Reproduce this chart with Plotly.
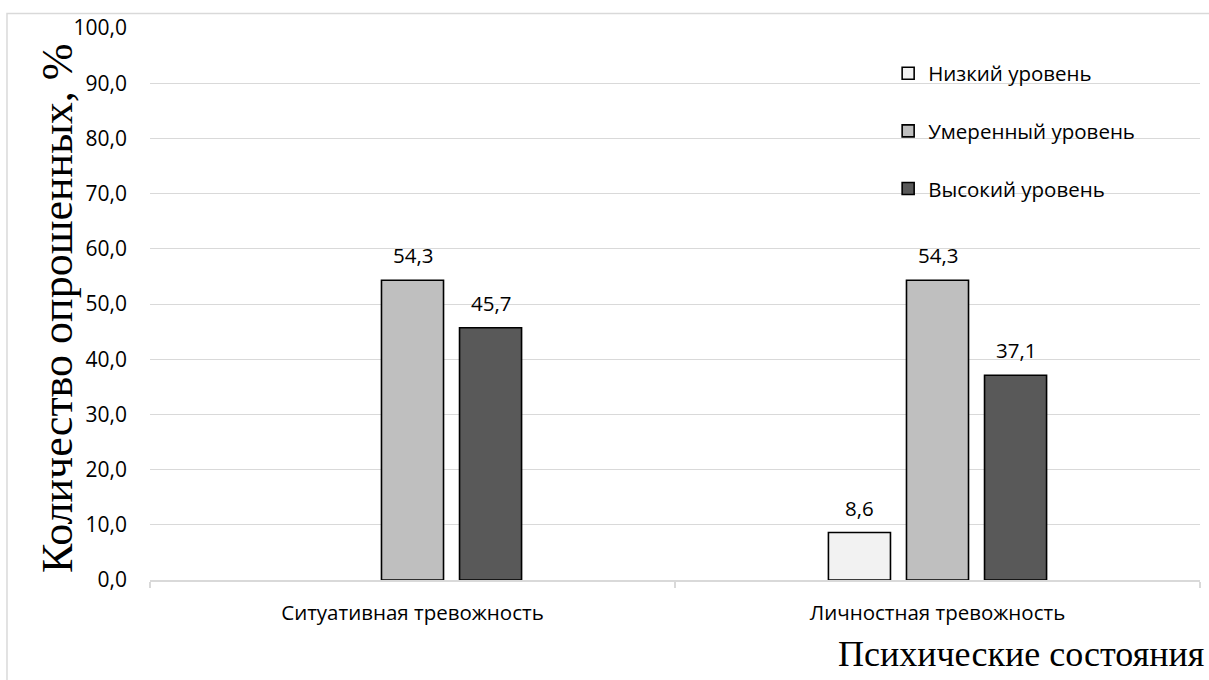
import plotly.graph_objects as go

# Categories and survey shares (%) per anxiety level
categories = ["Ситуативная тревожность", "Личностная тревожность"]
series_names = ["Низкий уровень", "Умеренный уровень", "Высокий уровень"]
low_level = [None, 8.6]
moderate_level = [54.3, 54.3]
high_level = [45.7, 37.1]
y_ticks = [0, 10, 20, 30, 40, 50, 60, 70, 80, 90, 100]

series_values = [low_level, moderate_level, high_level]
fill_colors = ["#f2f2f2", "#bfbfbf", "#595959"]

sans = "Open Sans, Carlito, Calibri, sans-serif"
serif = "Liberation Serif, Times New Roman, serif"

BARGAP = 0.554
BARGROUPGAP = 0.205
PLOT_W = 1209 - 150 - 9
slot_px = (1 - BARGAP) * PLOT_W / 2 / len(series_names)

fig = go.Figure()
for i, (name, vals, col) in enumerate(zip(series_names, series_values, fill_colors)):
    fig.add_trace(go.Bar(
        x=categories,
        y=vals,
        name=name,
        legendgroup=name,
        marker=dict(color=col, line=dict(color="#000000", width=1.6)),
        cliponaxis=False,
    ))
    # value labels above each bar
    for cat, v in zip(categories, vals):
        if v is None:
            continue
        fig.add_annotation(
            x=cat, y=v, xref="x", yref="y",
            text=f"{v:.1f}".replace(".", ","),
            showarrow=False,
            xshift=(i - 1) * slot_px,
            yshift=25,
            yanchor="middle",
            font=dict(family=sans, size=20.5, color="#000000"),
        )

fig.update_layout(
    width=1209,
    height=680,
    barmode="group",
    bargap=BARGAP,
    bargroupgap=BARGROUPGAP,
    separators=", ",
    paper_bgcolor="#ffffff",
    plot_bgcolor="#ffffff",
    margin=dict(l=150, r=9, t=28, b=100),
    showlegend=True,
    legend=dict(
        x=0.703, y=0.954, xanchor="left", yanchor="top",
        bgcolor="rgba(0,0,0,0)",
        font=dict(family=sans, size=20.5, color="#000000"),
        tracegroupgap=28,
        itemwidth=30,
    ),
)

fig.update_yaxes(
    range=[0, 100],
    tickvals=y_ticks,
    tickformat=".1f",
    showgrid=True,
    gridcolor="#d9d9d9",
    gridwidth=1,
    zeroline=False,
    showline=False,
    ticks="",
    ticklabelstandoff=22,
    tickfont=dict(family=sans, size=21, color="#000000"),
)

fig.update_xaxes(
    showline=True,
    linecolor="#d9d9d9",
    linewidth=1.5,
    ticks="outside",
    tickson="boundaries",
    ticklen=6,
    tickcolor="#d9d9d9",
    tickwidth=1.5,
    ticklabelstandoff=14,
    tickfont=dict(family=sans, size=20.5, color="#000000"),
)

# Axis titles
fig.add_annotation(
    text="Количество опрошенных, %",
    xref="paper", yref="paper",
    x=-0.0876, y=0.491,
    xanchor="center", yanchor="middle",
    textangle=-90, showarrow=False,
    font=dict(family=serif, size=44, color="#000000"),
)
fig.add_annotation(
    text="Психические состояния",
    xref="paper", yref="paper",
    x=1.006, y=-0.134,
    xanchor="right", yanchor="middle",
    showarrow=False,
    font=dict(family=serif, size=36, color="#000000"),
)

# Chart frame
fig.add_shape(
    type="rect",
    xref="paper", yref="paper",
    x0=-0.1362, y0=-0.25, x1=1.05, y1=1.0263,
    line=dict(color="#d9d9d9", width=1.5),
    fillcolor="rgba(0,0,0,0)",
    layer="below",
)

fig.write_html("out.html")
